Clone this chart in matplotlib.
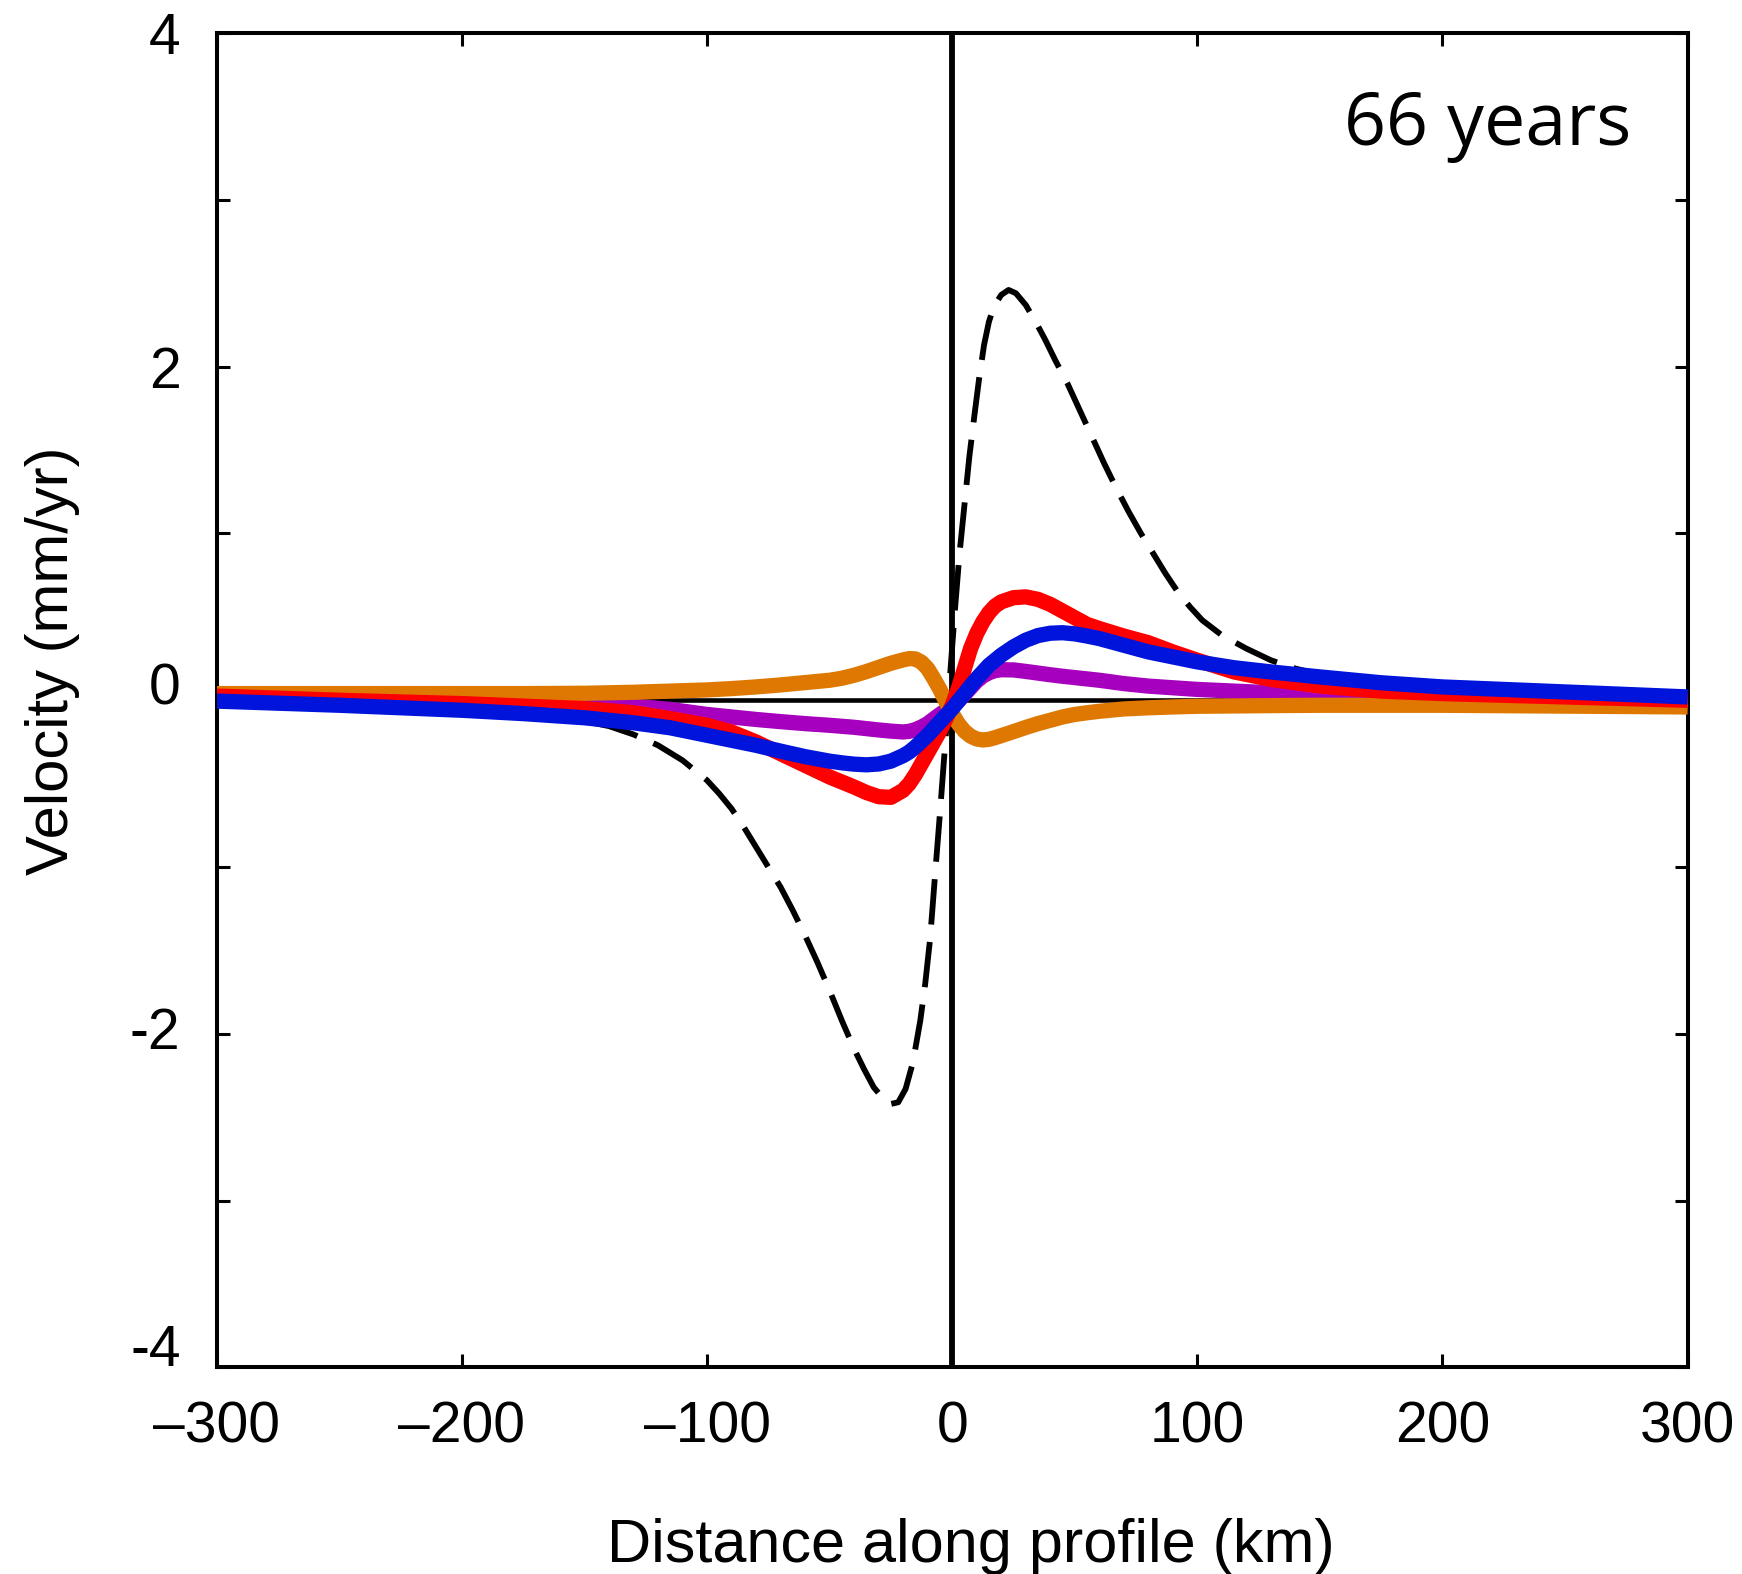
import matplotlib
matplotlib.use("Agg")
import matplotlib.pyplot as plt
from matplotlib.transforms import ScaledTranslation

# Distance along profile (km) at which the model curves are sampled
distance = [-300, -250, -200, -175, -150, -130, -115, -100, -90, -80, -70, -60,
            -50, -45, -40, -35, -30, -25, -20, -17.5, -15, -12.5, -10, -7.5,
            -5, -2.5, 0, 2.5, 5, 7.5, 10, 12.5, 15, 17.5, 20, 25, 30, 35, 40,
            45, 50, 55, 60, 70, 80, 90, 100, 115, 130, 150, 175, 200, 250, 300]

# Velocity components (mm/yr)
red_v = [0.025, 0.0, -0.02, -0.035, -0.05, -0.075, -0.11, -0.15, -0.19, -0.25,
         -0.32, -0.39, -0.46, -0.49, -0.52, -0.553, -0.578, -0.582, -0.54,
         -0.50, -0.445, -0.38, -0.315, -0.25, -0.185, -0.11, -0.03,
         0.07, 0.19, 0.31, 0.40, 0.47, 0.525, 0.565, 0.59, 0.615, 0.62, 0.605,
         0.575, 0.535, 0.495, 0.455, 0.43, 0.385, 0.345, 0.29, 0.24, 0.17,
         0.125, 0.085, 0.055, 0.04, 0.02, 0.0]

blue_v = [-0.005, -0.03, -0.06, -0.08, -0.105, -0.135, -0.165, -0.21, -0.24,
          -0.27, -0.305, -0.338, -0.365, -0.375, -0.383, -0.387, -0.382,
          -0.365, -0.332, -0.31, -0.28, -0.245, -0.21, -0.17, -0.13, -0.09,
          -0.05, -0.005, 0.04, 0.085, 0.13, 0.17, 0.21, 0.24, 0.27, 0.32, 0.36,
          0.388, 0.402, 0.405, 0.398, 0.385, 0.37, 0.33, 0.29, 0.26, 0.23,
          0.195, 0.17, 0.14, 0.105, 0.08, 0.05, 0.02]

purple_v = [0.01, 0.0, -0.01, -0.015, -0.022, -0.035, -0.055, -0.085, -0.1,
            -0.115, -0.128, -0.14, -0.15, -0.156, -0.162, -0.17, -0.178,
            -0.185, -0.19, -0.186, -0.176, -0.16, -0.14, -0.112, -0.085,
            -0.06, -0.04, -0.005, 0.035, 0.075, 0.115, 0.145, 0.165, 0.178,
            0.183, 0.182, 0.173, 0.163, 0.153, 0.144, 0.136, 0.128, 0.12, 0.1,
            0.085, 0.075, 0.065, 0.055, 0.045, 0.035, 0.02, 0.01, 0.0, -0.01]

orange_v = [0.04, 0.04, 0.04, 0.04, 0.042, 0.048, 0.055, 0.062, 0.07, 0.08,
            0.092, 0.106, 0.12, 0.132, 0.15, 0.172, 0.197, 0.222, 0.242, 0.25,
            0.248, 0.228, 0.19, 0.13, 0.065, -0.01, -0.08, -0.14, -0.185,
            -0.215, -0.232, -0.238, -0.234, -0.224, -0.212, -0.188, -0.163,
            -0.14, -0.12, -0.1, -0.085, -0.075, -0.066, -0.052, -0.045, -0.04,
            -0.036, -0.034, -0.032, -0.03, -0.03, -0.03, -0.035, -0.04]

# Reference (elastic) profile, dashed
dash_x = [-300, -250, -200, -175, -150, -140, -130, -120, -110, -100, -95, -90,
          -85, -80, -75, -70, -65, -60, -55, -50, -45, -40, -36, -32, -28, -25,
          -22, -19, -16, -13, -11, -9, -7, -5, -3, -1, 1, 3, 5, 7, 9, 11, 13,
          15, 17, 20, 23, 26, 30, 34, 38, 42, 47, 52, 57, 62, 67, 72, 77, 82,
          87, 92, 97, 102, 110, 120, 130, 140, 150, 175, 200, 250, 300]
dash_v = [-0.01, -0.03, -0.06, -0.085, -0.125, -0.155, -0.205, -0.27, -0.36,
          -0.48, -0.56, -0.65, -0.76, -0.88, -1.0, -1.12, -1.26, -1.41, -1.57,
          -1.74, -1.92, -2.09, -2.21, -2.32, -2.39, -2.42, -2.41, -2.33, -2.17,
          -1.92, -1.70, -1.43, -1.05, -0.68, -0.29, 0.12, 0.52, 0.88, 1.17,
          1.46, 1.70, 1.93, 2.13, 2.27, 2.36, 2.43, 2.46, 2.44, 2.37, 2.27,
          2.16, 2.04, 1.90, 1.74, 1.58, 1.42, 1.27, 1.13, 1.0, 0.88, 0.76,
          0.65, 0.56, 0.48, 0.39, 0.31, 0.24, 0.19, 0.155, 0.10, 0.07, 0.04,
          0.02]

x_ticks = [-300, -200, -100, 0, 100, 200, 300]
x_ticklabels = ["\u2013300", "\u2013200", "\u2013100", "0", "100", "200", "300"]
y_ticks = [-4, -3, -2, -1, 0, 1, 2, 3, 4]
y_ticklabels = ["-4", "", "-2", "", "0", "", "2", "", "4"]
panel_label = "66 years"

plt.rcParams["font.family"] = ["Liberation Sans", "DejaVu Sans"]

fig = plt.figure(figsize=(17.42, 15.74), dpi=100)
ax = fig.add_axes([0.1244, 0.1312, 0.8444, 0.8478])

# zero reference lines
ax.axhline(0, color="black", lw=3.3, zorder=1)
ax.axvline(0, color="black", lw=4.2, zorder=1)

ax.plot(dash_x, dash_v, color="black", lw=4.2, dashes=(7.8, 3.0), zorder=2)
ax.plot(distance, purple_v, color="#A600BE", lw=11, solid_capstyle="butt",
        solid_joinstyle="round", zorder=3)
ax.plot(distance, orange_v, color="#DE7800", lw=11, solid_capstyle="butt",
        solid_joinstyle="round", zorder=4)
ax.plot(distance, red_v, color="#FF0000", lw=11, solid_capstyle="butt",
        solid_joinstyle="round", zorder=5)
ax.plot(distance, blue_v, color="#0014DC", lw=11, solid_capstyle="butt",
        solid_joinstyle="round", zorder=6)

ax.set_xlim(-300, 300)
ax.set_ylim(-4, 4)
ax.set_xticks(x_ticks)
ax.set_xticklabels(x_ticklabels)
ax.set_yticks(y_ticks)
ax.set_yticklabels(y_ticklabels)

for s in ax.spines.values():
    s.set_linewidth(2.9)

ax.tick_params(axis="both", which="major", direction="in", length=9.5, width=2.2,
               labelsize=41, top=True, right=True)
ax.tick_params(axis="x", pad=24)
ax.tick_params(axis="y", pad=26)

# nudge a few y tick labels upward
nudges = {"0": 12.0, "-2": 4.5, "-4": 16.0}
for lab in ax.get_yticklabels():
    dy = nudges.get(lab.get_text())
    if dy:
        lab.set_transform(lab.get_transform() +
                          ScaledTranslation(0, dy / 72, fig.dpi_scale_trans))

ax.text(0.9615, 0.916, panel_label, transform=ax.transAxes, ha="right",
        va="baseline", fontsize=53, family=["Open Sans", "DejaVu Sans"])

fig.text(970.5 / 1742, (1574 - 1562) / 1574, "Distance along profile (km)",
         ha="center", va="baseline", fontsize=44)
fig.text(52 / 1742, 1 - 661 / 1574, "Velocity (mm/yr)", rotation=90,
         ha="center", va="center", fontsize=43)

fig.savefig("out.png", dpi=100)
